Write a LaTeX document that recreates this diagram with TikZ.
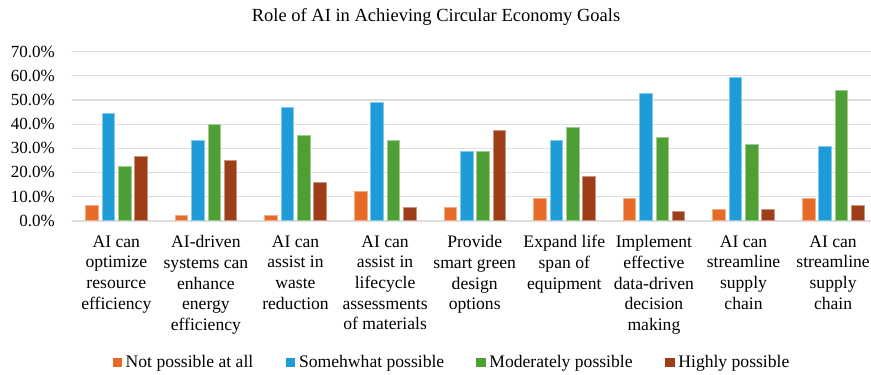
\documentclass[tikz,border=0pt]{standalone}
\usepackage{fontspec}
\setmainfont{Liberation Serif}
\usetikzlibrary{positioning}

\definecolor{notposs}{RGB}{232,106,40}
\definecolor{somewhat}{RGB}{29,156,215}
\definecolor{moderate}{RGB}{78,160,52}
\definecolor{highly}{RGB}{157,62,24}
\definecolor{gridgray}{RGB}{222,222,222}

\begin{document}
\begin{tikzpicture}[x=1pt,y=1pt,
  bar/.style={fill=#1,draw=#1!55!white,line width=0.5pt},
  gridline/.style={draw=gridgray,line width=1.1pt},
  ticklabel/.style={anchor=east,inner sep=0pt,font=\fontsize{17}{20}\selectfont},
  catlabel/.style={anchor=north,align=center,inner sep=0pt,font=\fontsize{17.6}{20.7}\selectfont},
  legbox/.style={anchor=south west,minimum size=9.3pt,inner sep=0pt,fill=#1},
  legtext/.style={inner sep=0pt,font=\fontsize{17.6}{20}\selectfont}]
  \useasboundingbox (0,0) rectangle (871,375);

  % Title
  \node[anchor=base,font=\fontsize{18.5}{22}\selectfont] (title) at (436,353)
    {Role of AI in Achieving Circular Economy Goals};

  % Value axis, grid and bars (in percent)
  \begin{scope}[shift={(0,154.3)},y=2.414pt]
    \foreach \v in {10,20,...,70}
      \draw[gridline] (71.7,\v) -- (871,\v);
    \draw[gridline,line width=1.8pt] (71.7,0) -- (871,0);
    \foreach \v in {0,10,...,70}
      \node[ticklabel] (tick\v) at (55,\v) {\v.0\%};

    \foreach \i/\a/\b/\c/\d in {1/6.6/44.5/22.4/26.9, 2/2.1/33.4/39.9/25.1,
        3/2.1/47.2/35.4/15.9, 4/12.3/49.2/33.4/5.7, 5/5.7/28.7/28.7/37.3,
        6/9.5/33.4/38.9/18.6, 7/9.5/52.9/34.4/3.9, 8/4.8/59.4/31.6/4.8,
        9/9.5/30.7/53.9/6.6} {
      \pgfmathsetmacro\cx{116.3+(\i-1)*89.6}
      \draw[bar=notposs]  (\cx-30.8,0) rectangle (\cx-18.2,\a);
      \draw[bar=somewhat] (\cx-14.5,0) rectangle (\cx-1.9,\b);
      \draw[bar=moderate] (\cx+1.9,0) rectangle (\cx+14.5,\c);
      \draw[bar=highly]   (\cx+18.2,0) rectangle (\cx+30.8,\d);
    }
  \end{scope}

  % Category labels
  \foreach \i/\txt in {1/{AI can\\optimize\\resource\\efficiency},
      2/{AI-driven\\systems can\\enhance\\energy\\efficiency},
      3/{AI can\\assist in\\waste\\reduction},
      4/{AI can\\assist in\\lifecycle\\assessments\\of materials},
      5/{Provide\\smart green\\design\\options},
      6/{Expand life\\span of\\equipment},
      7/{Implement\\effective\\data-driven\\decision\\making},
      8/{AI can\\streamline\\supply\\chain},
      9/{AI can\\streamline\\supply\\chain}}
    \node[catlabel] (cat\i) at ({116.3+(\i-1)*89.6},139.8) {\txt};

  % Legend
  \node[legbox=notposs]  (keyA) at (112.3,7.7) {};
  \node[legbox=somewhat] (keyB) at (285.7,7.7) {};
  \node[legbox=moderate] (keyC) at (476,7.7) {};
  \node[legbox=highly]   (keyD) at (665,7.7) {};
  \node[legtext,right=3.5pt of keyA.south east,anchor=base west] (legA) {Not possible at all};
  \node[legtext,right=3.5pt of keyB.south east,anchor=base west] (legB) {Somehwhat possible};
  \node[legtext,right=3.5pt of keyC.south east,anchor=base west] (legC) {Moderately possible};
  \node[legtext,right=3.5pt of keyD.south east,anchor=base west] (legD) {Highly possible};
\end{tikzpicture}
\end{document}
